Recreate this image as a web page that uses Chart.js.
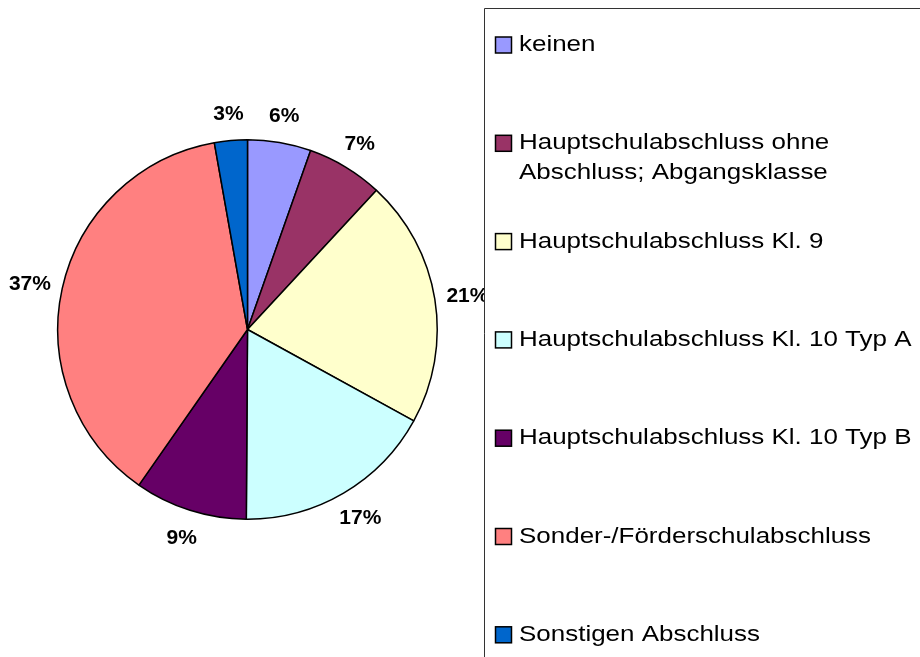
<!DOCTYPE html>
<html>
<head>
<meta charset="utf-8">
<script src="https://cdn.jsdelivr.net/npm/chart.js@4/dist/chart.umd.min.js"></script>
<style>
  html, body { margin: 0; padding: 0; background: #fff; }
  #wrap { width: 920px; height: 657px; }
</style>
</head>
<body>
<div id="wrap"><canvas id="abschlussChart" width="920" height="657"></canvas></div>
<script>
// categories (legend order = slice order, clockwise from 12 o'clock)
var categories = [
  "keinen",
  ["Hauptschulabschluss ohne", "Abschluss; Abgangsklasse"],
  "Hauptschulabschluss Kl. 9",
  "Hauptschulabschluss Kl. 10 Typ A",
  "Hauptschulabschluss Kl. 10 Typ B",
  "Sonder-/Förderschulabschluss",
  "Sonstigen Abschluss",
]
// slice shares in percent
var shares = [5.4, 6.5, 21.1, 17.1, 9.6, 37.5, 2.8]
// data labels as printed on the chart
var percentLabels = ["6%", "7%", "21%", "17%", "9%", "37%", "3%"]
var sliceColors = ["#9999FF", "#993366", "#FFFFCC", "#CCFFFF", "#660066", "#FF8080", "#0066CC"]

// percent labels outside the pie (text box pushed out along the slice middle)
const outsideLabels = {
  id: "outsideLabels",
  afterDatasetsDraw(chart) {
    const ctx = chart.ctx
    const meta = chart.getDatasetMeta(0)
    const sx = 1.05
    ctx.save()
    ctx.fillStyle = "#000"
    ctx.font = "bold 20px 'Liberation Sans', Arial, sans-serif"
    ctx.textAlign = "center"
    ctx.textBaseline = "alphabetic"
    meta.data.forEach((arc, i) => {
      const mid = (arc.startAngle + arc.endAngle) / 2
      const dx = Math.cos(mid)
      const dy = Math.sin(mid)
      const w = ctx.measureText(percentLabels[i]).width * sx
      const r = arc.outerRadius + 8
      const x = arc.x + dx * r + dx * (w / 2 + 4)
      const y = arc.y + dy * r + dy * 20
      ctx.save()
      ctx.translate(x, y + 7)
      ctx.scale(sx, 1)
      ctx.fillText(percentLabels[i], 0, 0)
      ctx.restore()
    })
    ctx.restore()
  },
}

// boxed legend on the right, running off the canvas edge
const boxLegend = {
  id: "boxLegend",
  afterDraw(chart) {
    const ctx = chart.ctx
    const left = 484.5
    const top = 8.5
    ctx.save()
    ctx.fillStyle = "#fff"
    ctx.fillRect(left, top, chart.width - left + 5, chart.height - top + 5)
    ctx.strokeStyle = "#333"
    ctx.lineWidth = 1
    ctx.beginPath()
    ctx.moveTo(chart.width + 5, top)
    ctx.lineTo(left, top)
    ctx.lineTo(left, chart.height + 5)
    ctx.stroke()

    ctx.font = "22px 'Liberation Sans', Arial, sans-serif"
    ctx.textAlign = "left"
    ctx.textBaseline = "alphabetic"
    const labels = chart.data.labels
    const colors = chart.data.datasets[0].backgroundColor
    labels.forEach((lab, i) => {
      const cy = 45 + i * 98.3
      ctx.fillStyle = colors[i]
      ctx.fillRect(495.5, cy - 8, 16, 16)
      ctx.strokeStyle = "#000"
      ctx.lineWidth = 1.5
      ctx.strokeRect(495.5, cy - 8, 16, 16)
      const lines = Array.isArray(lab) ? lab : [lab]
      ctx.fillStyle = "#000"
      lines.forEach((line, j) => {
        ctx.save()
        ctx.translate(519, cy + 6 + j * 30)
        ctx.scale(1.18, 1)
        ctx.fillText(line, 0, 0)
        ctx.restore()
      })
    })
    ctx.restore()
  },
}

const ctx = document.getElementById("abschlussChart").getContext("2d")
const abschlussChart = new Chart(ctx, {
  type: "pie",
  data: {
    labels: categories,
    datasets: [
      {
        data: shares,
        backgroundColor: sliceColors,
        borderColor: "#000",
        borderWidth: 1.5,
        hoverBorderWidth: 1.5,
        hoverOffset: 0,
      },
    ],
  },
  options: {
    responsive: false,
    animation: false,
    events: [],
    layout: {
      padding: {
        left: 57,
        right: 482,
        top: 139,
        bottom: 137,
      },
    },
    plugins: {
      legend: { display: false },
      tooltip: { enabled: false },
    },
  },
  plugins: [outsideLabels, boxLegend],
})
</script>
</body>
</html>
